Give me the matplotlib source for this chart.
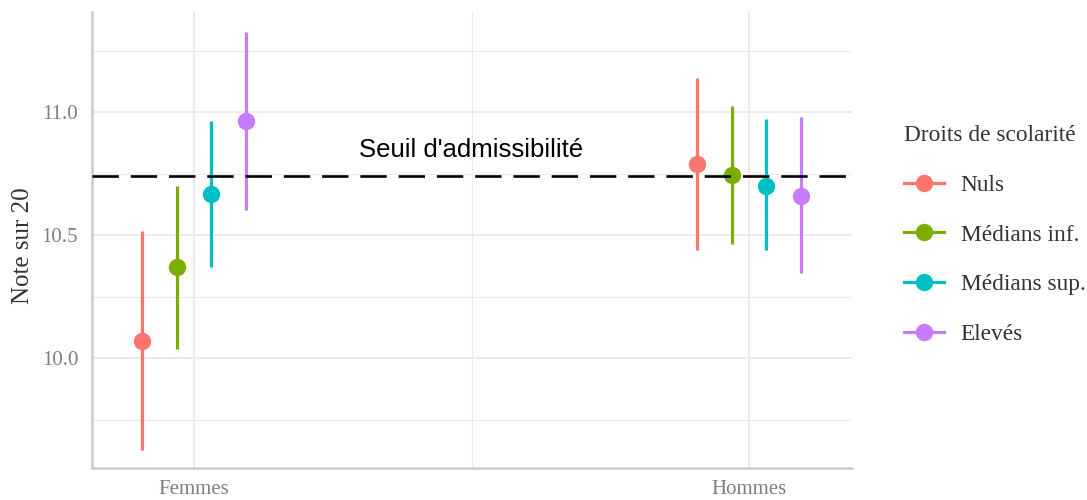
import numpy as np
import matplotlib.pyplot as plt
from matplotlib.lines import Line2D

# Data
sexes = ["Femmes", "Hommes"]
groupes = ["Nuls", "Médians inf.", "Médians sup.", "Elevés"]
couleurs = ["#F8766D", "#7CAE00", "#00BFC4", "#C77CFF"]

moyenne = {
    "Nuls": [10.07, 10.79],
    "Médians inf.": [10.37, 10.745],
    "Médians sup.": [10.665, 10.70],
    "Elevés": [10.965, 10.66],
}
bas = {
    "Nuls": [9.625, 10.44],
    "Médians inf.": [10.035, 10.465],
    "Médians sup.": [10.37, 10.44],
    "Elevés": [10.60, 10.345],
}
haut = {
    "Nuls": [10.515, 11.14],
    "Médians inf.": [10.70, 11.025],
    "Médians sup.": [10.965, 10.97],
    "Elevés": [11.325, 10.98],
}
seuil = 10.74

serif = "Liberation Serif"
sans = "Liberation Sans"

fig = plt.figure(figsize=(10.87, 5.0), dpi=100)
ax = fig.add_axes([0.0846, 0.064, 0.6994, 0.912])

x = np.arange(1, len(sexes) + 1)
decalages = np.array([-0.093, -0.031, 0.031, 0.093])

for g, c, d in zip(groupes, couleurs, decalages):
    xs = x + d
    ax.vlines(xs, bas[g], haut[g], color=c, lw=2.3, zorder=3)
    ax.plot(xs, moyenne[g], "o", color=c, ms=11.5, zorder=4, ls="none")

ax.axhline(seuil, color="black", lw=1.9, dashes=(10, 4.5), zorder=5)
ax.text(1.5, 10.845, "Seuil d'admissibilité", ha="center", va="center",
        fontsize=18.5, family=sans, color="black")

ax.set_xlim(0.816, 2.186)
ax.set_ylim(9.553, 11.407)

ax.set_xticks(x)
ax.set_xticklabels(sexes)
ax.set_xticks([1.5], minor=True)
ax.set_yticks([10.0, 10.5, 11.0])
ax.set_yticklabels(["10.0", "10.5", "11.0"])
ax.set_yticks([9.75, 10.25, 10.75, 11.25], minor=True)

ax.grid(True, which="major", color="#ebebeb", lw=1.5, zorder=0)
ax.grid(True, which="minor", color="#ebebeb", lw=0.8, zorder=0)
ax.set_axisbelow(True)

for s in ["top", "right"]:
    ax.spines[s].set_visible(False)
for s in ["left", "bottom"]:
    ax.spines[s].set_color("#cccccc")
    ax.spines[s].set_linewidth(1.8)

ax.tick_params(axis="y", which="both", length=0, pad=10)
ax.tick_params(axis="x", which="both", length=0, pad=9)
for lab in ax.get_xticklabels() + ax.get_yticklabels():
    lab.set_family(serif)
    lab.set_fontsize(15)
    lab.set_color("#7f7f7f")

ax.set_ylabel("Note sur 20", family=serif, fontsize=18, color="#333333")
ax.yaxis.set_label_coords(-0.0765, 0.487)

handles = [
    Line2D([0], [0], color=c, lw=2.3, marker="o", ms=11.5)
    for c in couleurs
]
leg = fig.legend(handles, groupes, title="Droits de scolarité",
                 loc="upper left", bbox_to_anchor=(0.812, 0.792),
                 frameon=False, prop={"family": serif, "size": 16.8},
                 handlelength=1.72, labelspacing=1.22, handletextpad=0.73,
                 alignment="left", borderpad=0.4)
leg.get_title().set_family(serif)
leg.get_title().set_fontsize(16.8)
leg.get_title().set_color("#333333")
for t in leg.get_texts():
    t.set_color("#333333")

fig.savefig("out.png", dpi=100)
